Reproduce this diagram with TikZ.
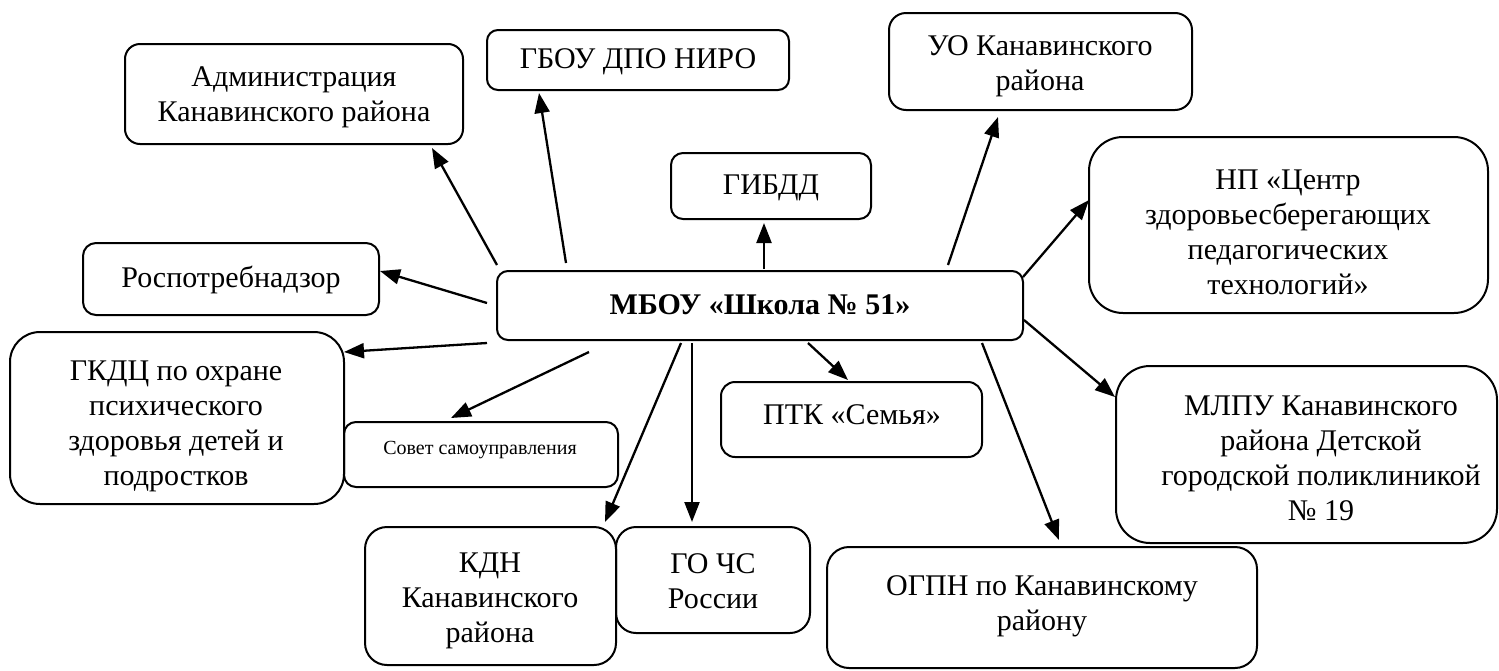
\documentclass[tikz,border=0pt]{standalone}
\usepackage{fontspec}
\setmainfont{Liberation Serif}
\usetikzlibrary{arrows.meta}
\begin{document}
\begin{tikzpicture}[x=1pt,y=-1pt,
  box/.style={draw,line width=2pt,rounded corners=#1,inner sep=0pt,outer sep=0pt},
  box/.default=14pt,
  txt/.style={align=center,inner sep=0pt,font=\fontsize{30}{35}\selectfont},
  arr/.style={line width=2.3pt,-{Triangle[length=20pt,width=15pt]}}]
\useasboundingbox (0,0) rectangle (1499,670);
% boxes
\node[box=15pt,minimum width=338pt,minimum height=100pt] (adm) at (294,94) {};
\node[box=13pt,minimum width=296pt,minimum height=72pt] (rosp) at (231,279) {};
\node[box=11pt,minimum width=302pt,minimum height=60pt] (gbou) at (638,60) {};
\node[box=12pt,minimum width=200pt,minimum height=66pt] (gibdd) at (771,186) {};
\node[box=17pt,minimum width=303pt,minimum height=97pt] (uo) at (1040.5,61.5) {};
\node[box=34pt,minimum width=399pt,minimum height=176pt] (np) at (1288.5,225) {};
\node[box=11pt,minimum width=526pt,minimum height=69pt] (mbou) at (760,305.5) {};
\node[box=30pt,minimum width=334pt,minimum height=172pt] (gkdc) at (177,418) {};
\node[box=12pt,minimum width=274pt,minimum height=65pt] (sovet) at (481,454.5) {};
\node[box=22pt,minimum width=251pt,minimum height=138pt] (kdn) at (490.5,596) {};
\node[box=20pt,minimum width=194pt,minimum height=106pt] (gochs) at (713,580) {};
\node[box=14pt,minimum width=261pt,minimum height=75pt] (ptk) at (851.5,419.5) {};
\node[box=22pt,minimum width=430pt,minimum height=121pt] (ogpn) at (1042,607.5) {};
\node[box=34pt,minimum width=381pt,minimum height=177pt] (mlpu) at (1306.5,454.5) {};
% texts
\node[txt] (admT) at (294,97) {Администрация\\Канавинского района};
\node[txt] (rospT) at (231,280) {Роспотребнадзор};
\node[txt] (gbouT) at (638,62) {ГБОУ ДПО НИРО};
\node[txt] (gibddT) at (771,188) {ГИБДД};
\node[txt] (uoT) at (1040,66) {УО Канавинского\\района};
\node[txt] (npT) at (1288,232) {НП «Центр\\здоровьесберегающих\\педагогических\\технологий»};
\node[txt,font=\fontsize{30}{35}\selectfont\bfseries] (mbouT) at (760,305) {МБОУ «Школа № 51»};
\node[txt] (gkdcT) at (176,426) {ГКДЦ по охране\\психического\\здоровья детей и\\подростков};
\node[txt,font=\fontsize{20}{24}\selectfont] (sovetT) at (480,450) {Совет самоуправления};
\node[txt] (kdnT) at (490,601) {КДН\\Канавинского\\района};
\node[txt] (gochsT) at (713,581) {ГО ЧС\\России};
\node[txt] (ptkT) at (852,415) {ПТК «Семья»};
\node[txt] (ogpnT) at (1042,606) {ОГПН по Канавинскому\\району};
\node[txt] (mlpuT) at (1321,458) {МЛПУ Канавинского\\района Детской\\городской поликлиникой\\№ 19};
% arrow end points
\coordinate (s1) at (497,265); \coordinate (e1) at (432,148);
\coordinate (s2) at (566,263); \coordinate (e2) at (539,93);
\coordinate (s3) at (764,269); \coordinate (e3) at (764,223);
\coordinate (s4) at (948,265); \coordinate (e4) at (998,117);
\coordinate (s5) at (1023,277); \coordinate (e5) at (1089,200);
\coordinate (s6) at (1024,320); \coordinate (e6) at (1115,397);
\coordinate (s7) at (982,343); \coordinate (e7) at (1059,540);
\coordinate (s8) at (808,343); \coordinate (e8) at (848,380);
\coordinate (s9) at (692,343); \coordinate (e9) at (692,522);
\coordinate (s10) at (681,343); \coordinate (e10) at (605,522);
\coordinate (s11) at (589,352); \coordinate (e11) at (451,418);
\coordinate (s12) at (487,343); \coordinate (e12) at (344,352);
\coordinate (s13) at (487,303); \coordinate (e13) at (380,271);
\foreach \i in {1,...,13} \draw[arr] (s\i) -- (e\i);
\end{tikzpicture}
\end{document}
